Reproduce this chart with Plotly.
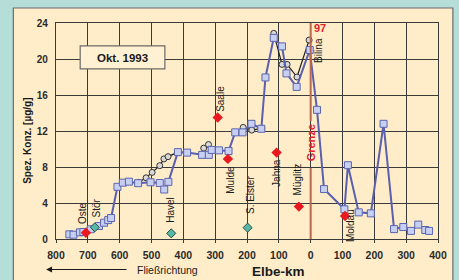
import plotly.graph_objects as go

# ---- data ----
# x: Elbe-km, negative = German km (downstream, left), positive = Czech km
main_km = [-758, -745, -725, -714, -691, -665, -649, -636, -627, -607, -590, -571, -542,
           -503, -474, -460, -447, -417, -388, -341, -320, -311, -288, -258, -237, -214,
           -186, -155, -142, -116, -90, -76, -44, -3, 20, 42, 106, 117, 151, 189, 229,
           262, 291, 315, 338, 360, 372]
main_val = [0.52, 0.48, 0.74, 0.78, 1.08, 1.44, 1.81, 2.1, 2.33, 5.8, 6.26, 6.37, 6.2,
            6.3, 6.22, 5.5, 6.35, 9.65, 9.6, 9.35, 9.35, 9.9, 9.85, 9.78, 11.85, 11.85,
            12.8, 12.25, 17.95, 22.35, 21.4, 18.4, 16.9, 21.0, 14.35, 5.55, 3.3, 8.2, 2.96, 2.85, 12.8,
            1.1, 1.33, 0.9, 1.6, 1.0, 0.9]

circ_km = [-540, -517, -498, -474, -461, -448, -417, None, -336, -321, -311, None,
           -212, -185, -154, None, -116, -90, -74, -43, -5]
circ_val = [6.3, 6.8, 7.4, 8.15, 8.9, 9.15, 9.65, None, 10.1, 10.5, 9.9, None,
            12.4, 12.1, 12.3, None, 22.85, 19.4, 19.4, 18.0, 22.1]

red_names = ["Oste", "Saale", "Mulde", "Jahna", "Müglitz", "Moldau"]
red_km = [-706, -292, -260, -107, -37, 108]
red_val = [0.7, 13.5, 8.9, 9.6, 3.6, 2.55]

teal_names = ["Stör", "Havel", "S. Elster"]
teal_km = [-678, -438, -198]
teal_val = [1.3, 0.63, 1.26]

labels = ["Oste", "Stör", "Havel", "S. Elster", "Mulde", "Jahna", "Müglitz", "Saale", "Moldau", "Bilina"]
label_km = [-715, -674, -440, -187, -253, -107, -40, -284, 127, 23]
label_y = [2.9, 3.4, 3.2, 4.9, 6.6, 7.3, 6.6, 15.6, 1.45, 21.0]

x_tickvals = [-800, -700, -600, -500, -400, -300, -200, -100, 0, 100, 200, 300, 400]
x_ticktext = ["800", "700", "600", "500", "400", "300", "200", "100", "0", "100", "200", "300", "400"]
y_tickvals = [0, 4, 8, 12, 16, 20, 24]

FONT = "Arial, Liberation Sans, sans-serif"
BEIGE = "#FFEDC9"
GRID = "#3a3a3a"

fig = go.Figure()

fig.add_trace(go.Scatter(
    x=circ_km, y=circ_val, mode="lines+markers",
    line=dict(color="#1e1e1e", width=1.2),
    marker=dict(symbol="circle", size=6, color="#d9d9d9", line=dict(color="#333333", width=1)),
    hoverinfo="skip", showlegend=False))

fig.add_trace(go.Scatter(
    x=main_km, y=main_val, mode="lines+markers",
    line=dict(color="#5a5fae", width=2),
    marker=dict(symbol="square", size=7, color="#c8d0f2", line=dict(color="#5b64b0", width=1)),
    showlegend=False))

fig.add_trace(go.Scatter(
    x=red_km, y=red_val, mode="markers", text=red_names,
    marker=dict(symbol="diamond", size=8, color="#e8191f"),
    showlegend=False))

fig.add_trace(go.Scatter(
    x=teal_km, y=teal_val, mode="markers", text=teal_names,
    marker=dict(symbol="diamond", size=7, color="#58b8a8", line=dict(color="#2a4a44", width=1)),
    showlegend=False))

annotations = []
for name, xk, yv in zip(labels, label_km, label_y):
    annotations.append(dict(x=xk, y=yv, xref="x", yref="y", text=name, textangle=-90,
                            xanchor="center", yanchor="middle",
                            showarrow=False, font=dict(family=FONT, size=10, color="#1a1a1a")))

# Grenze + 97
annotations.append(dict(x=0, y=10.7, xref="x", yref="y", text="<b>Grenze</b>", textangle=-90,
                        showarrow=False, font=dict(family=FONT, size=11, color="#e8202a")))
annotations.append(dict(x=29, y=23.5, xref="x", yref="y", text="<b>97</b>",
                        showarrow=False, font=dict(family=FONT, size=11, color="#e8202a")))
# Okt. 1993 box text
annotations.append(dict(x=-591, y=20.15, xref="x", yref="y", text="<b>Okt. 1993</b>",
                        showarrow=False, font=dict(family=FONT, size=11.5, color="#1a1a1a")))
# axis titles
annotations.append(dict(x=-0.073, y=0.455, xref="paper", yref="paper", text="<b>Spez. Konz. [µg/g]</b>",
                        xanchor="center", yanchor="middle",
                        textangle=-90, showarrow=False, font=dict(family=FONT, size=10, color="#1a1a1a")))
annotations.append(dict(x=(280 - 56) / 385, y=(239 - 271) / 216, xref="paper", yref="paper",
                        text="<b>Elbe-km</b>", xanchor="center", yanchor="middle",
                        showarrow=False, font=dict(family=FONT, size=13.5, color="#1a1a1a")))
annotations.append(dict(x=(168 - 56) / 385, y=(239 - 270) / 216, xref="paper", yref="paper",
                        text="Fließrichtung", xanchor="center", yanchor="middle",
                        showarrow=False, font=dict(family=FONT, size=10.5, color="#1a1a1a")))
annotations.append(dict(x=(46 - 56) / 385, y=(239 - 269.5) / 216, xref="paper", yref="paper",
                        ax=82, ay=0, text="", showarrow=True, arrowhead=2, arrowsize=1,
                        arrowwidth=1.2, arrowcolor="#1a1a1a"))

shapes = [
    # beige panel
    dict(type="rect", xref="paper", yref="paper", x0=(13 - 56) / 385, x1=(456 - 56) / 385,
         y0=-0.3, y1=(239 - 8) / 216, fillcolor=BEIGE, line=dict(color="#6a6a6a", width=1.2),
         layer="below"),
    # Grenze line (two parts)
    dict(type="line", xref="x", yref="y", x0=0, x1=0, y0=24, y1=13.1,
         line=dict(color="#b8684c", width=2), layer="above"),
    dict(type="line", xref="x", yref="y", x0=0, x1=0, y0=7.9, y1=0,
         line=dict(color="#b8684c", width=2), layer="above"),
    # Okt. box
    dict(type="rect", xref="x", yref="y", x0=-724, x1=-458, y0=18.9, y1=21.45,
         fillcolor="#FFF1D2", line=dict(color="#6a6a6a", width=1.2), layer="above"),
]

fig.update_layout(
    width=459, height=280,
    margin=dict(l=56, r=18, t=23, b=41),
    paper_bgcolor="#b6ded8",
    plot_bgcolor=BEIGE,
    shapes=shapes, annotations=annotations,
    font=dict(family=FONT, color="#222222"),
    xaxis=dict(range=[-800, 400], tickvals=x_tickvals, ticktext=x_ticktext,
               showgrid=True, gridcolor=GRID, gridwidth=1, zeroline=False,
               showline=True, linecolor=GRID, linewidth=1.2, mirror=True,
               ticks="outside", ticklen=3, tickcolor=GRID,
               tickfont=dict(family=FONT, size=10.5, color="#2a2a2a", weight="bold"),
               ticklabelstandoff=3),
    yaxis=dict(range=[0, 24], tickvals=y_tickvals,
               showgrid=True, gridcolor=GRID, gridwidth=1, zeroline=False,
               showline=True, linecolor=GRID, linewidth=1.2, mirror=True,
               ticks="", tickfont=dict(family=FONT, size=10, color="#2a2a2a", weight="bold"),
               ticklabelstandoff=5),
)

fig.write_html("out.html", config={"displayModeBar": False},
               post_script="document.body.style.margin='0';document.body.style.overflow='hidden';")
